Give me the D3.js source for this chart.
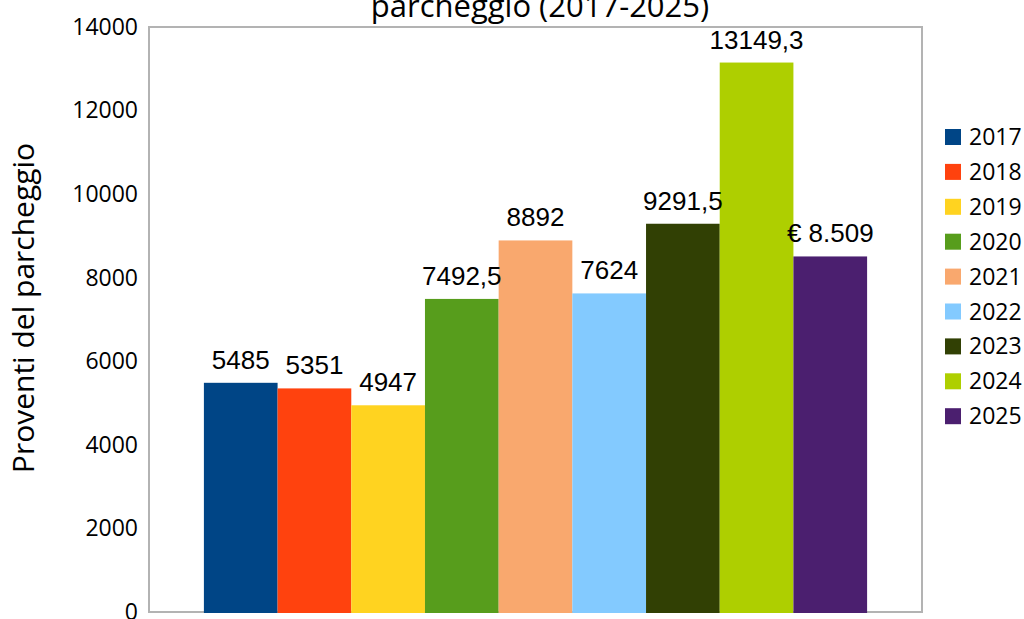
<!DOCTYPE html>
<html>
<head>
<meta charset="utf-8">
<script src="https://cdn.jsdelivr.net/npm/d3@7"></script>
<style>
  html, body { margin: 0; padding: 0; background: #fff; }
  svg { display: block; }
</style>
</head>
<body>
<div id="chart"></div>
<script>
const years = ['2017', '2018', '2019', '2020', '2021', '2022', '2023', '2024', '2025'];
const values = [5485, 5351, 4947, 7492.5, 8892, 7624, 9291.5, 13149.3, 8509];
const valueLabels = ['5485', '5351', '4947', '7492,5', '8892', '7624', '9291,5', '13149,3', '€ 8.509'];
const colors = ['#004586', '#ff420e', '#ffd320', '#579d1c', '#f9a86e', '#83caff', '#314004', '#aecf00', '#4b1f6f'];
const yTicks = [0, 2000, 4000, 6000, 8000, 10000, 12000, 14000];

const width = 1024;
const height = 619;
const plot = { left: 149, right: 922, top: 27, bottom: 612 };

const svg = d3.select('#chart').append('svg')
  .attr('width', width)
  .attr('height', height);

// Title (its first line falls outside the picture)
svg.append('text')
  .attr('x', 540)
  .attr('y', 17)
  .attr('text-anchor', 'middle')
  .style('font-family', 'Open Sans, sans-serif')
  .style('font-size', '31px')
  .attr('fill', '#000')
  .text('parcheggio (2017-2025)');

const y = d3.scaleLinear()
  .domain([0, 14000])
  .range([plot.bottom, plot.top]);

const x = d3.scaleBand()
  .domain(years)
  .range([plot.left, plot.right])
  .paddingInner(0)
  .paddingOuter(0.745);

// plot area border
svg.append('rect')
  .attr('x', plot.left)
  .attr('y', plot.top)
  .attr('width', plot.right - plot.left)
  .attr('height', plot.bottom - plot.top)
  .attr('fill', 'none')
  .attr('stroke', '#b3b3b3')
  .attr('stroke-width', 2);

// y axis labels
const yAxis = d3.axisLeft(y)
  .tickValues(yTicks)
  .tickSize(0)
  .tickPadding(11)
  .tickFormat(d3.format('d'));

const gy = svg.append('g')
  .attr('transform', `translate(${plot.left},0)`)
  .call(yAxis);
gy.select('.domain').remove();
gy.selectAll('text')
  .style('font-family', 'Open Sans, sans-serif')
  .style('font-size', '23px')
  .attr('fill', '#000');

// y axis title
svg.append('text')
  .attr('transform', 'translate(34,308) rotate(-90)')
  .attr('text-anchor', 'middle')
  .style('font-family', 'Open Sans, sans-serif')
  .style('font-size', '30px')
  .attr('fill', '#000')
  .text('Proventi del parcheggio');

// bars
const data = years.map((yr, i) => ({ year: yr, value: values[i], label: valueLabels[i], color: colors[i] }));

svg.append('g').selectAll('rect')
  .data(data)
  .join('rect')
  .attr('x', d => x(d.year))
  .attr('y', d => y(d.value))
  .attr('width', x.bandwidth())
  .attr('height', d => y(0) - y(d.value) + 1)
  .attr('fill', d => d.color);

svg.append('g').selectAll('text')
  .data(data)
  .join('text')
  .attr('x', d => x(d.year) + x.bandwidth() / 2)
  .attr('y', d => y(d.value) - 14)
  .attr('text-anchor', 'middle')
  .style('font-family', 'Liberation Sans, Arial, sans-serif')
  .style('font-size', '26px')
  .attr('fill', '#000')
  .text(d => d.label);

// legend
const legend = svg.append('g')
  .attr('transform', 'translate(945,137)');

const items = legend.selectAll('g')
  .data(data)
  .join('g')
  .attr('transform', (d, i) => `translate(0,${i * 34.9})`);

items.append('rect')
  .attr('x', 0)
  .attr('y', -8)
  .attr('width', 16)
  .attr('height', 16)
  .attr('fill', d => d.color);

items.append('text')
  .attr('x', 24)
  .attr('y', 0)
  .attr('dy', '0.35em')
  .style('font-family', 'Open Sans, sans-serif')
  .style('font-size', '23px')
  .attr('fill', '#000')
  .text(d => d.year);
</script>
</body>
</html>
